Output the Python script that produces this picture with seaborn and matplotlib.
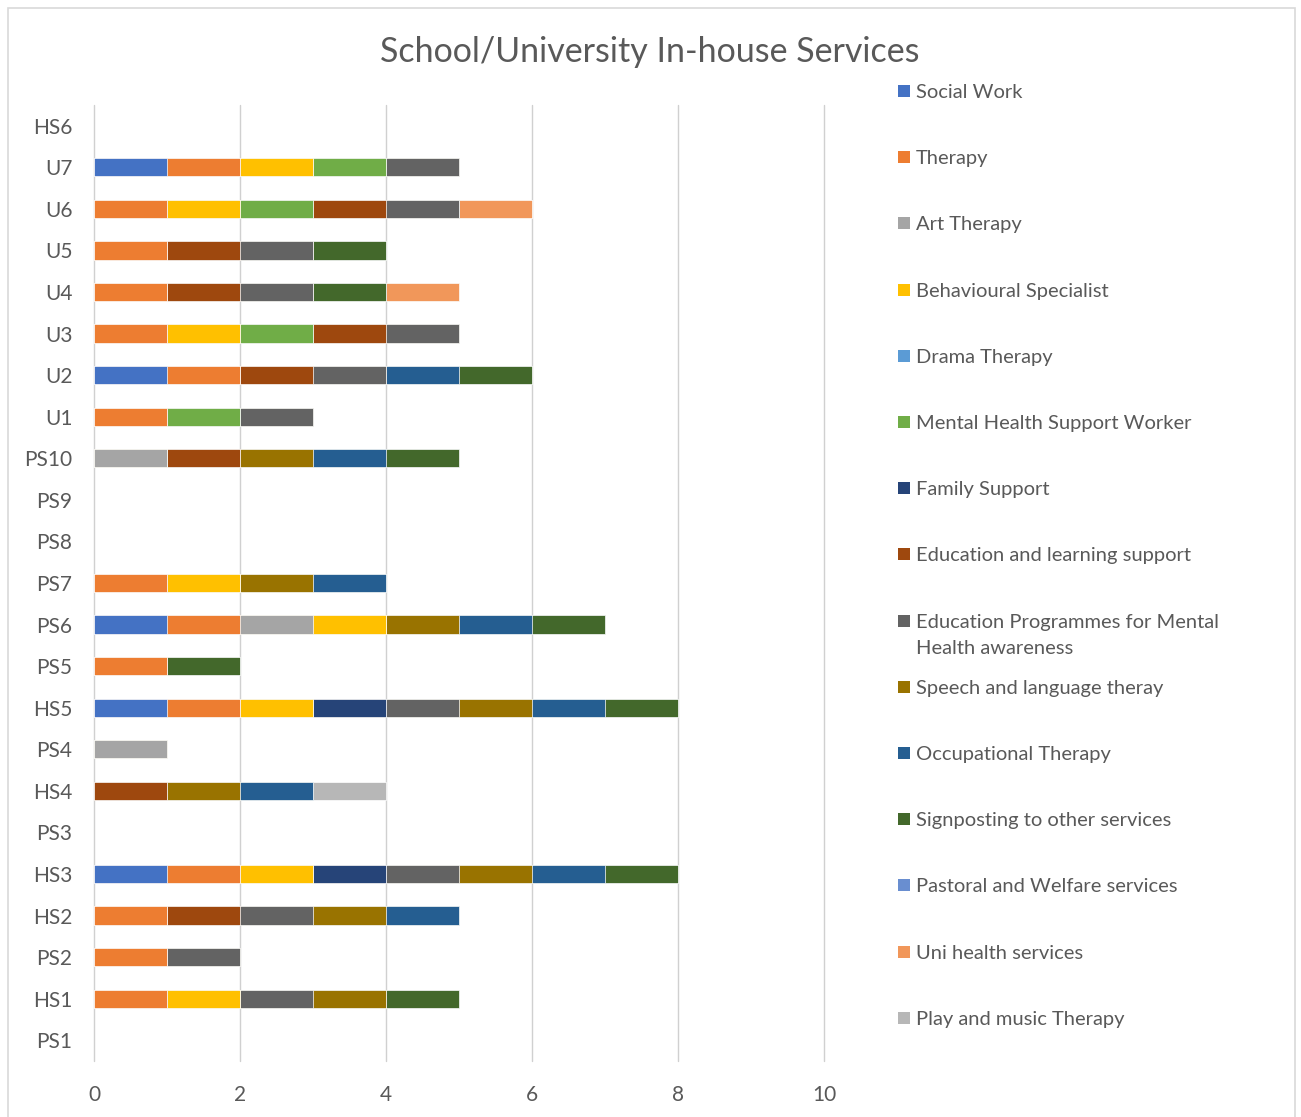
import numpy as np
import pandas as pd
import matplotlib
matplotlib.use("Agg")
import matplotlib.pyplot as plt
from matplotlib.patches import Rectangle
import seaborn as sns

# Categories, top to bottom as displayed
categories = ["HS6", "U7", "U6", "U5", "U4", "U3", "U2", "U1", "PS10", "PS9", "PS8",
              "PS7", "PS6", "PS5", "HS5", "PS4", "HS4", "PS3", "HS3", "HS2", "PS2", "HS1", "PS1"]

series_names = ["Social Work", "Therapy", "Art Therapy", "Behavioural Specialist",
                "Drama Therapy", "Mental Health Support Worker", "Family Support",
                "Education and learning support",
                "Education Programmes for Mental\nHealth awareness",
                "Speech and language theray", "Occupational Therapy",
                "Signposting to other services", "Pastoral and Welfare services",
                "Uni health services", "Play and music Therapy"]

series_colors = ["#4472C4", "#ED7D31", "#A5A5A5", "#FFC000", "#5B9BD5", "#70AD47",
                 "#264478", "#9E480E", "#636363", "#997300", "#255E91", "#43682B",
                 "#698ED0", "#F1975A", "#B7B7B7"]

#                 HS6 U7 U6 U5 U4 U3 U2 U1 P10 P9 P8 P7 P6 P5 HS5 P4 HS4 P3 HS3 HS2 P2 HS1 P1
social_work    = [0, 1, 0, 0, 0, 0, 1, 0, 0, 0, 0, 0, 1, 0, 1, 0, 0, 0, 1, 0, 0, 0, 0]
therapy        = [0, 1, 1, 1, 1, 1, 1, 1, 0, 0, 0, 1, 1, 1, 1, 0, 0, 0, 1, 1, 1, 1, 0]
art_therapy    = [0, 0, 0, 0, 0, 0, 0, 0, 1, 0, 0, 0, 1, 0, 0, 1, 0, 0, 0, 0, 0, 0, 0]
behavioural    = [0, 1, 1, 0, 0, 1, 0, 0, 0, 0, 0, 1, 1, 0, 1, 0, 0, 0, 1, 0, 0, 1, 0]
drama_therapy  = [0, 0, 0, 0, 0, 0, 0, 0, 0, 0, 0, 0, 0, 0, 0, 0, 0, 0, 0, 0, 0, 0, 0]
mh_support     = [0, 1, 1, 0, 0, 1, 0, 1, 0, 0, 0, 0, 0, 0, 0, 0, 0, 0, 0, 0, 0, 0, 0]
family_support = [0, 0, 0, 0, 0, 0, 0, 0, 0, 0, 0, 0, 0, 0, 1, 0, 0, 0, 1, 0, 0, 0, 0]
edu_learning   = [0, 0, 1, 1, 1, 1, 1, 0, 1, 0, 0, 0, 0, 0, 0, 0, 1, 0, 0, 1, 0, 0, 0]
edu_programmes = [0, 1, 1, 1, 1, 1, 1, 1, 0, 0, 0, 0, 0, 0, 1, 0, 0, 0, 1, 1, 1, 1, 0]
speech_lang    = [0, 0, 0, 0, 0, 0, 0, 0, 1, 0, 0, 1, 1, 0, 1, 0, 1, 0, 1, 1, 0, 1, 0]
occupational   = [0, 0, 0, 0, 0, 0, 1, 0, 1, 0, 0, 1, 1, 0, 1, 0, 1, 0, 1, 1, 0, 0, 0]
signposting    = [0, 0, 0, 1, 1, 0, 1, 0, 1, 0, 0, 0, 1, 1, 1, 0, 0, 0, 1, 0, 0, 1, 0]
pastoral       = [0, 0, 0, 0, 0, 0, 0, 0, 0, 0, 0, 0, 0, 0, 0, 0, 0, 0, 0, 0, 0, 0, 0]
uni_health     = [0, 0, 1, 0, 1, 0, 0, 0, 0, 0, 0, 0, 0, 0, 0, 0, 0, 0, 0, 0, 0, 0, 0]
play_music     = [0, 0, 0, 0, 0, 0, 0, 0, 0, 0, 0, 0, 0, 0, 0, 0, 1, 0, 0, 0, 0, 0, 0]

series_values = [social_work, therapy, art_therapy, behavioural, drama_therapy, mh_support,
                 family_support, edu_learning, edu_programmes, speech_lang, occupational,
                 signposting, pastoral, uni_health, play_music]

x_ticks = [0, 2, 4, 6, 8, 10]
title = "School/University In-house Services"

sns.set_theme(style="white")
plt.rcParams["font.family"] = ["Lato", "DejaVu Sans"]

W, H = 1301, 1117
fig = plt.figure(figsize=(W / 100, H / 100), dpi=100)
ax = fig.add_axes([94 / W, 1 - 1061 / H, (824 - 94) / W, (1061 - 105) / H])

# outer chart border
fig.add_artist(Rectangle((8 / W, -0.05), (1295 - 8) / W, 1 - 8 / H + 0.05,
                         transform=fig.transFigure, fill=False,
                         edgecolor="#D9D9D9", linewidth=1.2))

vals = np.array(series_values, dtype=float)
cum = np.cumsum(vals, axis=0)

# stacked bars: draw cumulative totals from last series to first
for k in range(len(series_names) - 1, -1, -1):
    df = pd.DataFrame({"category": categories, "value": cum[k]})
    sns.barplot(data=df, x="value", y="category", order=categories, orient="h",
                color=series_colors[k], saturation=1, width=0.44, errorbar=None,
                edgecolor="white", linewidth=0.5, ax=ax)

# remove empty (zero-length) bars so their edges don't show
for p in list(ax.patches):
    if p.get_width() == 0:
        p.remove()

ax.set_xlim(0, 10)
ax.set_xticks(x_ticks)
ax.set_xlabel("")
ax.set_ylabel("")
ax.grid(axis="x", color="#D0D0D0", linewidth=1)
ax.grid(axis="y", visible=False)
ax.set_axisbelow(True)
for gl in ax.get_xgridlines():
    gl.set_clip_on(False)
for s in ax.spines.values():
    s.set_visible(False)
ax.tick_params(axis="x", length=0, pad=17, labelsize=15, labelcolor="#595959")
ax.tick_params(axis="y", length=0, pad=15.5, labelsize=15, labelcolor="#595959")

fig.text(650 / W, 1 - 52 / H, title, ha="center", va="center", fontsize=24.5, color="#595959")

# legend (Excel style, evenly spaced entries)
for i, (name, col) in enumerate(zip(series_names, series_colors)):
    yc = 91 + 66.2 * i
    fig.add_artist(Rectangle((898 / W, 1 - (yc + 6) / H), 12 / W, 12 / H,
                             transform=fig.transFigure, facecolor=col, edgecolor="none"))
    fig.text(916 / W, 1 - (yc - 7) / H, name, ha="left", va="top", fontsize=14.5,
             color="#595959", linespacing=1.65)

fig.savefig("out.png", dpi=100, facecolor="white")
